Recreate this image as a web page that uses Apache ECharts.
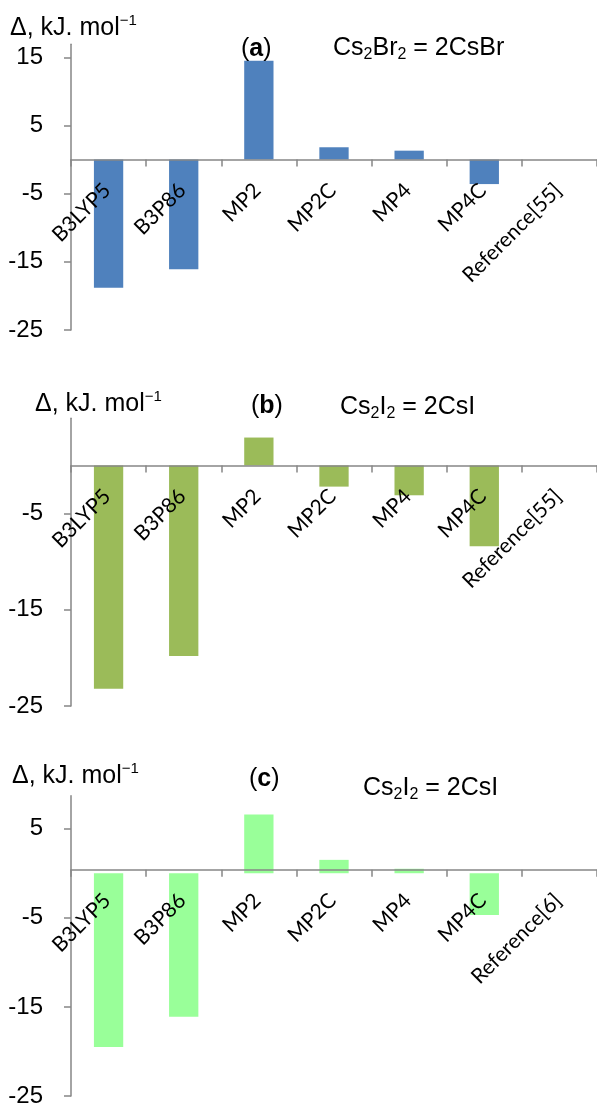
<!DOCTYPE html>
<html>
<head>
<meta charset="utf-8">
<script src="https://cdn.jsdelivr.net/npm/echarts@6/dist/echarts.min.js"></script>
<style>html,body{margin:0;padding:0;background:#fff;}#c{width:597px;height:1108px;}</style>
</head>
<body>
<div id="c"></div>
<script>
// ---- data ----
const categoriesA = ['B3LYP5', 'B3P86', 'MP2', 'MP2C', 'MP4', 'MP4C', 'Reference[55]'];
const categoriesB = ['B3LYP5', 'B3P86', 'MP2', 'MP2C', 'MP4', 'MP4C', 'Reference[55]'];
const categoriesC = ['B3LYP5', 'B3P86', 'MP2', 'MP2C', 'MP4', 'MP4C', 'Reference[6]'];
const valuesA = [-18.8, -16.1, 14.5, 1.8, 1.3, -3.6, 0];
const valuesB = [-23.2, -19.8, 2.9, -2.2, -3.1, -8.4, 0];
const valuesC = [-19.5, -16.1, 6.6, 1.5, 0.5, -4.7, 0];
const ticksA = [-25, -15, -5, 5, 15];
const ticksB = [-25, -15, -5];
const ticksC = [-25, -15, -5, 5];

const H = 1108;
const axisColor = '#868686';
const tickFont = 'Liberation Sans, Arial, sans-serif';
const catFont = 'Lato, sans-serif';

const grids = [
  { left: 71, right: -10, top: 44.3, bottom: 778, min: -25, max: 16.9 },
  { left: 71, right: 0, top: 418.3, bottom: 402, min: -25, max: 4.9 },
  { left: 71, right: 0, top: 795.7, bottom: 7.3, min: -25, max: 8.7 }
];

function xAx(gi, cats) {
  const g = grids[gi];
  const h = H - g.top - g.bottom;
  const zeroFromBottom = h * (0 - g.min) / (g.max - g.min);
  return {
    type: 'category', gridIndex: gi, data: cats, position: 'bottom', z: 10,
    offset: -zeroFromBottom,
    axisLine: { onZero: false, lineStyle: { color: axisColor, width: 1.5 } },
    axisTick: { show: true, length: 7, lineStyle: { color: axisColor, width: 1.5 } },
    axisLabel: { rotate: 45, margin: 26, padding: [0, 2, 0, 0], color: '#000', fontFamily: catFont, fontSize: 21, interval: 0 },
    splitLine: { show: false }
  };
}
function yAx(gi, ticks) {
  const g = grids[gi];
  return {
    type: 'value', gridIndex: gi, min: g.min, max: g.max,
    axisLine: { show: true, lineStyle: { color: axisColor, width: 1.5 } },
    axisTick: { show: true, length: 7, customValues: ticks, lineStyle: { color: axisColor, width: 1.5 } },
    axisLabel: { customValues: ticks, margin: 28, color: '#000', fontFamily: tickFont, fontSize: 24 },
    splitLine: { show: false }
  };
}
function bar(gi, vals, color) {
  return {
    type: 'bar', xAxisIndex: gi, yAxisIndex: gi, data: vals, barWidth: '39%',
    itemStyle: { color: color }, silent: true, z: 2
  };
}
const rich = {
  n: { fontFamily: tickFont, fontSize: 25, color: '#000', fontWeight: 'normal', lineHeight: 30, verticalAlign: 'middle' },
  b: { fontFamily: tickFont, fontSize: 25, color: '#000', fontWeight: 'bold', lineHeight: 30, verticalAlign: 'middle' },
  sup: { fontFamily: tickFont, fontSize: 15, color: '#000', fontWeight: 'normal', lineHeight: 18, verticalAlign: 'top' },
  sub: { fontFamily: tickFont, fontSize: 16, color: '#000', fontWeight: 'normal', lineHeight: 15, verticalAlign: 'bottom' }
};
function T(left, top, text) {
  return { left: left, top: top, text: text, padding: 0,
    textStyle: { fontWeight: 'normal', fontFamily: tickFont, rich: rich } };
}
const unit = '{n|Δ, kJ. mol}{sup|−1}';

const chart = echarts.init(document.getElementById('c'), null, { renderer: 'canvas' });
chart.setOption({
  backgroundColor: '#fff',
  animation: false,
  title: [
    T(10, 13, unit),
    T(241, 34, '{n|(}{b|a}{n|)}'),
    T(333, 33, '{n|Cs}{sub|2}{n|Br}{sub|2}{n| = 2CsBr}'),
    T(35, 389, unit),
    T(251, 391, '{n|(}{b|b}{n|)}'),
    T(340, 392, '{n|Cs}{sub|2}{n|I}{sub|2}{n| = 2CsI}'),
    T(12, 761, unit),
    T(249, 764, '{n|(}{b|c}{n|)}'),
    T(363, 773, '{n|Cs}{sub|2}{n|I}{sub|2}{n| = 2CsI}')
  ],
  grid: grids.map(g => ({ left: g.left, right: g.right, top: g.top, bottom: g.bottom })),
  xAxis: [xAx(0, categoriesA), xAx(1, categoriesB), xAx(2, categoriesC)],
  yAxis: [yAx(0, ticksA), yAx(1, ticksB), yAx(2, ticksC)],
  series: [bar(0, valuesA, '#4F81BD'), bar(1, valuesB, '#9BBB59'), bar(2, valuesC, '#99FF99')]
});
</script>
</body>
</html>
